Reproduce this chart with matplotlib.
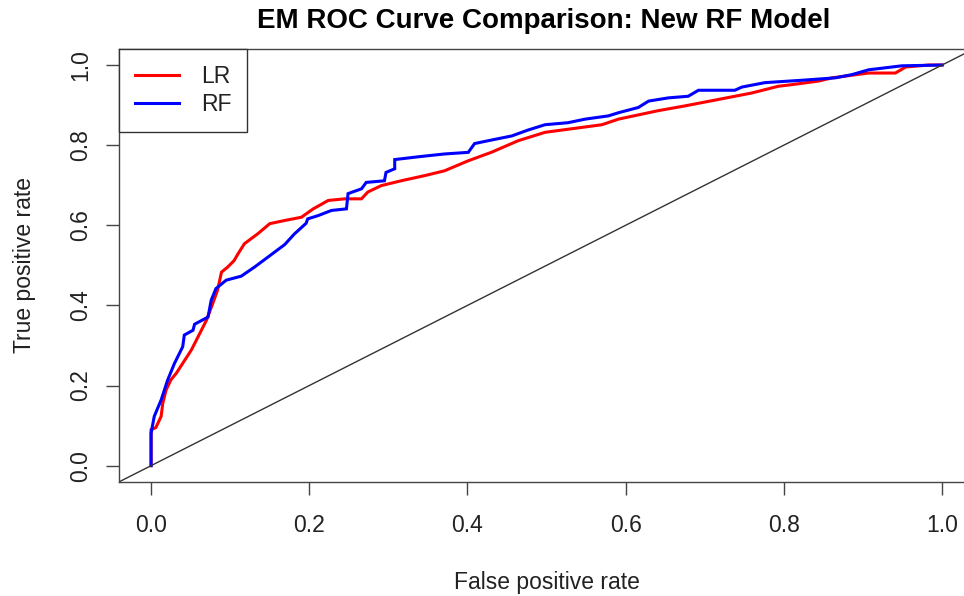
import numpy as np
import matplotlib
matplotlib.use("Agg")
import matplotlib.pyplot as plt

# ROC points (false positive rate, true positive rate)
lr_fpr = [0.0, 0.0, 0.006, 0.0127, 0.0148, 0.019, 0.025, 0.032, 0.051, 0.070, 0.078,
          0.084, 0.089, 0.097, 0.105, 0.110, 0.118, 0.135, 0.150, 0.169, 0.190, 0.205,
          0.224, 0.245, 0.266, 0.274, 0.291, 0.316, 0.346, 0.371, 0.401, 0.430, 0.464,
          0.498, 0.532, 0.570, 0.591, 0.641, 0.675, 0.717, 0.759, 0.793, 0.810, 0.844,
          0.861, 0.907, 0.941, 0.954, 0.983, 1.0]
lr_tpr = [0.0, 0.090, 0.095, 0.123, 0.156, 0.189, 0.214, 0.231, 0.289, 0.363, 0.405,
          0.438, 0.483, 0.496, 0.512, 0.529, 0.554, 0.579, 0.604, 0.612, 0.620, 0.641,
          0.662, 0.666, 0.666, 0.683, 0.699, 0.711, 0.724, 0.736, 0.761, 0.782, 0.811,
          0.832, 0.841, 0.851, 0.865, 0.886, 0.898, 0.914, 0.930, 0.947, 0.951, 0.960,
          0.968, 0.980, 0.980, 0.995, 1.0, 1.0]

rf_fpr = [0.0, 0.0, 0.004, 0.0127, 0.021, 0.0295, 0.040, 0.042, 0.053, 0.055, 0.072,
          0.076, 0.082, 0.095, 0.114, 0.131, 0.148, 0.169, 0.181, 0.196, 0.198, 0.211,
          0.228, 0.247, 0.249, 0.266, 0.272, 0.295, 0.297, 0.308, 0.308, 0.338, 0.371,
          0.401, 0.409, 0.426, 0.456, 0.477, 0.498, 0.527, 0.549, 0.578, 0.591, 0.616,
          0.629, 0.654, 0.679, 0.692, 0.738, 0.747, 0.776, 0.823, 0.865, 0.886, 0.907,
          0.949, 1.0]
rf_tpr = [0.0, 0.081, 0.123, 0.164, 0.214, 0.255, 0.297, 0.326, 0.338, 0.353, 0.371,
          0.413, 0.442, 0.463, 0.473, 0.496, 0.521, 0.552, 0.578, 0.605, 0.616, 0.624,
          0.637, 0.641, 0.679, 0.691, 0.707, 0.711, 0.732, 0.741, 0.764, 0.771, 0.778,
          0.782, 0.804, 0.811, 0.823, 0.838, 0.851, 0.856, 0.865, 0.873, 0.881, 0.894,
          0.910, 0.918, 0.922, 0.937, 0.937, 0.945, 0.956, 0.962, 0.968, 0.976, 0.988,
          0.998, 1.0]

ticks = [0.0, 0.2, 0.4, 0.6, 0.8, 1.0]
tick_labels = ["0.0", "0.2", "0.4", "0.6", "0.8", "1.0"]

plt.rcParams['font.family'] = ['Liberation Sans', 'DejaVu Sans']
txt_col = '#222222'
fs = 16.5

fig = plt.figure(figsize=(9.64, 5.96), dpi=100)
# R style plot region, cropped on the right like the original
ax = fig.add_axes([0.1239, 0.1918, 0.8862, 0.726])

ax.plot(lr_fpr, lr_tpr, color='red', lw=2.2, label='LR', solid_joinstyle='miter')
ax.plot(rf_fpr, rf_tpr, color='blue', lw=2.2, label='RF', solid_joinstyle='miter')
ax.axline((0, 0), slope=1, color='#333333', lw=1.0)

ax.set_xlim(-0.04, 1.04)
ax.set_ylim(-0.04, 1.04)

ax.set_xticks(ticks)
ax.set_xticklabels(tick_labels)
ax.set_yticks(ticks)
ax.set_yticklabels(tick_labels, rotation=90, va='center')
ax.tick_params(axis='both', length=9.5, width=1, color='#444444',
               labelsize=fs, labelcolor=txt_col)
ax.tick_params(axis='x', pad=14)
ax.tick_params(axis='y', pad=10)

for sp in ax.spines.values():
    sp.set_color('#444444')
    sp.set_linewidth(1)

ax.set_xlabel("False positive rate", fontsize=fs, color=txt_col, labelpad=24)
ax.set_ylabel("True positive rate", fontsize=fs, color=txt_col, labelpad=24)
fig.text(0.5645, 0.965, "EM ROC Curve Comparison: New RF Model", ha='center', va='center',
         fontsize=20, fontweight='bold', color='black')

leg = ax.legend(loc='upper left', borderaxespad=0, fontsize=fs, handlelength=1.9,
                handletextpad=0.95, labelspacing=0.2, borderpad=0.7, fancybox=False,
                framealpha=1, edgecolor='#333333')
leg.get_frame().set_linewidth(1)
for t in leg.get_texts():
    t.set_color(txt_col)

fig.savefig("out.png", dpi=100)
